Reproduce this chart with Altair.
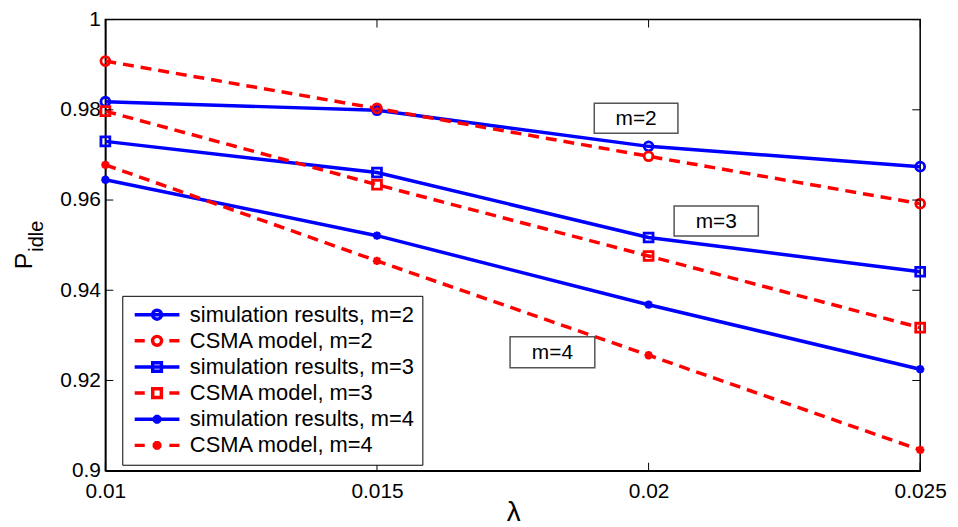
import altair as alt
import pandas as pd

# ---------------- data ----------------
x_vals = [0.01, 0.015, 0.02, 0.025]

sim_m2 = [0.9818, 0.9799, 0.9719, 0.9674]
csma_m2 = [0.9908, 0.9803, 0.9697, 0.9592]
sim_m3 = [0.9730, 0.9661, 0.9517, 0.9441]
csma_m3 = [0.9797, 0.9634, 0.9476, 0.9317]
sim_m4 = [0.9645, 0.9521, 0.9368, 0.9225]
csma_m4 = [0.9678, 0.9465, 0.9256, 0.9046]

series_names = [
    "simulation results, m=2",
    "CSMA model, m=2",
    "simulation results, m=3",
    "CSMA model, m=3",
    "simulation results, m=4",
    "CSMA model, m=4",
]
series_values = [sim_m2, csma_m2, sim_m3, csma_m3, sim_m4, csma_m4]
series_kind = ["sim", "model", "sim", "model", "sim", "model"]
series_markers = ["circle", "circle", "square", "square", "star", "star"]
series_colors = ["#0000ff", "#ff0000", "#0000ff", "#ff0000", "#0000ff", "#ff0000"]

x_ticks = [0.01, 0.015, 0.02, 0.025]
y_ticks = [0.9, 0.92, 0.94, 0.96, 0.98, 1.0]

ann_text = ["m=2", "m=3", "m=4"]
ann_x1 = [0.0190, 0.02047, 0.01745]
ann_x2 = [0.02054, 0.02202, 0.01901]
ann_y1 = [0.98143, 0.95866, 0.92967]
ann_y2 = [0.97482, 0.95205, 0.92284]

y_title = ["P"]
y_sub = ["idle"]
x_title = ["λ"]

# ---------------- tables ----------------
rows = []
for i, (name, vals, kind, mk, col) in enumerate(
        zip(series_names, series_values, series_kind, series_markers, series_colors)):
    for xv, yv in zip(x_vals, vals):
        rows.append({"series": name, "x": xv, "y": yv, "kind": kind,
                     "marker": mk, "col": col, "k": i})
df = pd.DataFrame(rows)

ann_df = pd.DataFrame({"t": ann_text, "x1": ann_x1, "x2": ann_x2, "y1": ann_y1, "y2": ann_y2})
xt_df = pd.DataFrame({"x": x_ticks})
yt_df = pd.DataFrame({"y": y_ticks})

W, H = 820, 454
FONT = "Liberation Sans"

xscale = alt.Scale(domain=[0.01, 0.025], nice=False, zero=False)
yscale = alt.Scale(domain=[0.9, 1.0], nice=False, zero=False)
color_scale = alt.Scale(domain=series_names, range=series_colors)

# legend symbols: line (solid or "- -") with a marker in the middle
solid = "M-1,0L5,0"
dashed = "M-1,0L0.35,0M3.65,0L5,0"
circ = "M2.6,0A0.6,0.6,0,1,1,1.4,0A0.6,0.6,0,1,1,2.6,0"
sq = "M1.42,-0.58L2.58,-0.58L2.58,0.58L1.42,0.58Z"
star = "M1.4,0L2.6,0M2,-0.6L2,0.6M1.58,-0.42L2.42,0.42M1.58,0.42L2.42,-0.42"
legend_paths = [solid + circ, dashed + circ, solid + sq, dashed + sq, solid + star, dashed + star]
shape_scale = alt.Scale(domain=series_names, range=legend_paths)

star_marker = "M-1,0L1,0M0,-1L0,1M-0.72,-0.72L0.72,0.72M-0.72,0.72L0.72,-0.72"

xaxis = alt.Axis(values=x_ticks, format=".3~f", title=None, ticks=False, grid=False,
                 labelFont=FONT, labelFontSize=21, labelColor="black", labelPadding=10,
                 domainColor="black", domainWidth=1.5, labelFlush=False)
yaxis = alt.Axis(values=y_ticks, format=".2~f", title=None, ticks=False, grid=False,
                 labelFont=FONT, labelFontSize=21, labelColor="black", labelPadding=5,
                 domainColor="black", domainWidth=1.5)

X = alt.X("x:Q", scale=xscale, axis=xaxis)
Y = alt.Y("y:Q", scale=yscale, axis=yaxis)
COL = alt.Color("col:N", scale=None)

sim_lines = alt.Chart(df).transform_filter(alt.datum.kind == "sim").mark_line(
    strokeWidth=3.5).encode(x=X, y=Y, color=COL, detail="series:N", order="x:Q")
model_lines = alt.Chart(df).transform_filter(alt.datum.kind == "model").mark_line(
    strokeWidth=3.5, strokeDash=[11, 7]).encode(x=X, y=Y, color=COL, detail="series:N", order="x:Q")


def marker_layer(mk, shape, size, sw):
    return alt.Chart(df).transform_filter(alt.datum.marker == mk).mark_point(
        shape=shape, size=size, filled=False, strokeWidth=sw, opacity=1
    ).encode(x=X, y=Y, color=COL)


circles = marker_layer("circle", "circle", 80, 2.8)
squares = marker_layer("square", "square", 80, 2.8)
stars = marker_layer("star", star_marker, 70, 2.6)

leg = alt.Legend(
    title=None, orient="none", legendX=17, legendY=278,
    labelFont=FONT, labelFontSize=22, labelColor="black", labelLimit=0,
    symbolSize=225, symbolStrokeWidth=3.5, symbolOffset=1, labelOffset=37,
    rowPadding=2.3, padding=8, strokeColor="black", fillColor="white",
)
legend_layer = alt.Chart(df).transform_filter("datum.x < 0").mark_point(
    filled=False, strokeWidth=3.5, opacity=1
).encode(
    x=X, y=Y,
    color=alt.Color("series:N", scale=color_scale, legend=leg),
    shape=alt.Shape("series:N", scale=shape_scale, legend=leg),
)

tick_style = dict(color="black", strokeWidth=1)
left_t = alt.Chart(yt_df).mark_rule(**tick_style).encode(y=Y, x=alt.value(0), x2=alt.value(8))
right_t = alt.Chart(yt_df).mark_rule(**tick_style).encode(y=Y, x=alt.value(W - 8), x2=alt.value(W))
bottom_t = alt.Chart(xt_df).mark_rule(**tick_style).encode(x=X, y=alt.value(H - 8), y2=alt.value(H))
top_t = alt.Chart(xt_df).mark_rule(**tick_style).encode(x=X, y=alt.value(0), y2=alt.value(8))

boxes = alt.Chart(ann_df).transform_calculate(
    x="datum.x1", y="datum.y1"
).mark_rect(fill="white", stroke="#555555", strokeWidth=1.5).encode(
    x=X, x2="x2:Q", y=Y, y2="y2:Q",
)
box_text = alt.Chart(ann_df).transform_calculate(
    x="(datum.x1 + datum.x2) / 2", y="(datum.y1 + datum.y2) / 2"
).mark_text(font=FONT, fontSize=21, color="black", baseline="middle", dy=1).encode(
    x=X, y=Y, text="t:N",
)

p_title = alt.Chart(pd.DataFrame({"t": y_title})).mark_text(
    font=FONT, fontSize=25, color="black", angle=270, align="center", baseline="alphabetic"
).encode(text="t:N", x=alt.value(-74), y=alt.value(243))
p_sub = alt.Chart(pd.DataFrame({"t": y_sub})).mark_text(
    font=FONT, fontSize=20, color="black", angle=270, align="center", baseline="alphabetic"
).encode(text="t:N", x=alt.value(-63), y=alt.value(218))
lam = alt.Chart(pd.DataFrame({"t": x_title})).mark_text(
    font=FONT, fontSize=28, color="black", align="center", baseline="alphabetic"
).encode(text="t:N", x=alt.value(W / 2 + 1), y=alt.value(H + 51))

chart = alt.layer(
    sim_lines, model_lines, circles, squares, stars, legend_layer,
    left_t, right_t, bottom_t, top_t,
    boxes, box_text, p_title, p_sub, lam,
).properties(
    width=W, height=H,
    autosize=alt.AutoSizeParams(type="none"),
    padding={"left": 98, "top": 10, "right": 30, "bottom": 56},
    background="white",
).configure_view(stroke="black", strokeWidth=1.5)

chart.save("out.html", embed_options={"renderer": "svg", "actions": False})
